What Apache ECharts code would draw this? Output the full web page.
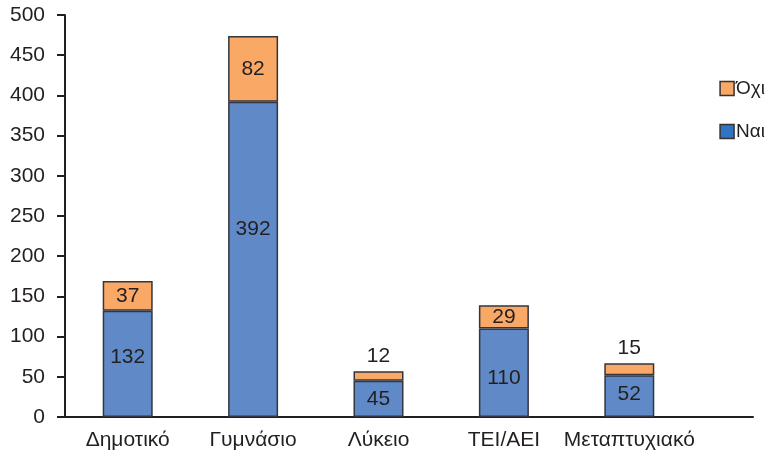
<!DOCTYPE html>
<html>
<head>
<meta charset="utf-8">
<script src="https://cdn.jsdelivr.net/npm/echarts@6/dist/echarts.min.js"></script>
<style>
  html, body { margin: 0; padding: 0; background: #fff; }
  #chart { width: 771px; height: 459px; }
</style>
</head>
<body>
<div id="chart"></div>
<script>
const categories = ['Δημοτικό', 'Γυμνάσιο', 'Λύκειο', 'TEI/AEI', 'Μεταπτυχιακό']
const yesValues = [132, 392, 45, 110, 52]
const noValues = [37, 82, 12, 29, 15]
const yTicks = [0, 50, 100, 150, 200, 250, 300, 350, 400, 450, 500]

const blue = '#5f8ac7'
const orange = '#f9a866'
const ink = '#231f20'
const font = 'Liberation Sans, Arial, sans-serif'

const chart = echarts.init(document.getElementById('chart'), null, { renderer: 'canvas' })

// small values get their label above the bar, like the original
const smallLimit = 20
// the original's labels in the blue bars are not quite centred
const yesLabelShift = [-7, -30, 0, 5, -2]

chart.setOption({
  animation: false,
  textStyle: { fontFamily: font },
  grid: [
    { left: 65, right: 79, top: 15, bottom: 42, containLabel: false },
    // only used for the long baseline that runs past the last bar
    { left: 65, right: 18, top: 15, bottom: 42, containLabel: false }
  ],
  legend: {
    orient: 'vertical',
    right: 1,
    top: 74,
    itemWidth: 14,
    itemHeight: 14,
    itemGap: 24,
    icon: 'rect',
    textStyle: { color: ink, fontSize: 19, fontFamily: font, padding: [0, 0, 0, -3] },
    data: [
      { name: 'Όχι', itemStyle: { color: orange, borderColor: '#333', borderWidth: 1.5 } },
      { name: 'Ναι', itemStyle: { color: '#2f73c2', borderColor: '#333', borderWidth: 1.5 } }
    ]
  },
  xAxis: [
    {
      type: 'category',
      gridIndex: 0,
      data: categories,
      axisLine: { show: false },
      axisTick: { show: false },
      axisLabel: { color: ink, fontSize: 21, margin: 13, interval: 0 }
    },
    {
      type: 'value',
      gridIndex: 1,
      min: 0,
      max: 1,
      axisLine: { show: true, onZero: false, lineStyle: { color: ink, width: 2 } },
      axisTick: { show: false },
      axisLabel: { show: false },
      splitLine: { show: false }
    }
  ],
  yAxis: [
    {
      type: 'value',
      gridIndex: 0,
      min: yTicks[0],
      max: yTicks[yTicks.length - 1],
      interval: yTicks[1] - yTicks[0],
      axisLine: { show: true, lineStyle: { color: ink, width: 2 } },
      axisTick: { show: true, inside: false, length: 8, lineStyle: { color: ink, width: 2 } },
      splitLine: { show: false },
      axisLabel: { color: ink, fontSize: 21, margin: 20 }
    },
    {
      type: 'value',
      gridIndex: 1,
      min: 0,
      max: 1,
      show: false
    }
  ],
  series: [
    {
      name: 'Ναι',
      type: 'bar',
      stack: 'total',
      barWidth: 50,
      data: yesValues.map((v, i) => ({ value: v, label: { offset: [0, yesLabelShift[i]] } })),
      itemStyle: { color: blue, borderColor: '#33363f', borderWidth: 1.5 },
      label: { show: true, position: 'inside', color: ink, fontSize: 21 }
    },
    {
      name: 'Όχι',
      type: 'bar',
      stack: 'total',
      barWidth: 50,
      data: noValues.map(v => ({
        value: v,
        label: v < smallLimit ? { position: 'top', distance: 4 } : { position: 'inside' }
      })),
      itemStyle: { color: orange, borderColor: '#33363f', borderWidth: 1.5 },
      label: { show: true, color: ink, fontSize: 21 }
    }
  ]
})
</script>
</body>
</html>
